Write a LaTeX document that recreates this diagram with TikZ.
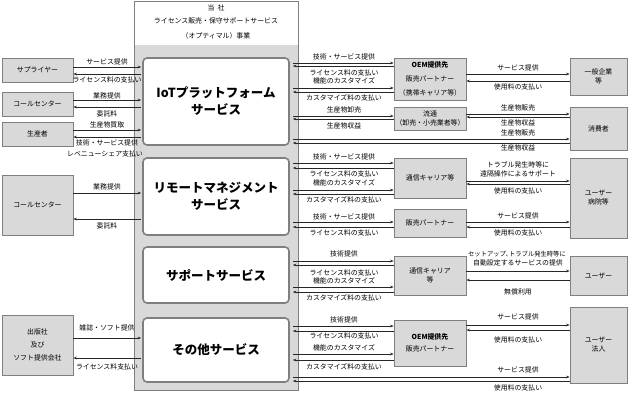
\documentclass[tikz,border=0pt]{standalone}
\usepackage{fontspec}
\setmainfont{Noto Sans CJK JP}
\usetikzlibrary{arrows.meta}
\definecolor{boxgray}{HTML}{D9D9D9}
\definecolor{edgegray}{HTML}{7F7F7F}
\tikzset{
  gbox/.style={draw=edgegray, fill=boxgray, line width=0.8pt, inner sep=0pt, align=center, font=\fontsize{6.9}{9}\selectfont},
  svc/.style={draw=edgegray, fill=white, line width=1.6pt, rounded corners=4pt, inner sep=0pt, align=center, minimum width=146pt, font=\bfseries\fontsize{12.5}{17}\selectfont},
  lbl/.style={inner sep=0pt, font=\fontsize{6.9}{8}\selectfont},
  arr/.style={-{Stealth[length=3.5pt,width=2.6pt]}, line width=0.6pt, draw=black!85}
}
\begin{document}
\begin{tikzpicture}[x=1pt,y=-1pt]
\useasboundingbox (0,0) rectangle (630,397);
% central company frame
\node[fill=boxgray, inner sep=0pt, minimum width=164pt, minimum height=345pt] (base) at (216,217.5) {};
\node[draw=edgegray, line width=0.8pt, inner sep=0pt, minimum width=164pt, minimum height=389pt] (corp) at (216,195.5) {};
\node[lbl] (h1) at (216,8) {当\ \ 社};
\node[lbl] (h2) at (216,21) {ライセンス販売・保守サポートサービス};
\node[lbl] (h3) at (216,36) {（オプティマル）事業};
% services
\node[svc, minimum height=87pt] (iot) at (216,101.5) {IoTプラットフォーム\\サービス};
\node[svc, minimum height=77pt] (rem) at (216,196.5) {リモートマネジメント\\サービス};
\node[svc, minimum height=56pt] (sup) at (216,275) {サポートサービス};
\node[svc, minimum height=64pt] (oth) at (216,350) {その他サービス};
\coordinate (iotL) at ([xshift=-1pt]iot.west);
\coordinate (iotR) at ([xshift=3pt]iot.east);
\coordinate (remL) at ([xshift=-1pt]rem.west);
\coordinate (remR) at ([xshift=3pt]rem.east);
\coordinate (supR) at ([xshift=3pt]sup.east);
\coordinate (othL) at ([xshift=-1pt]oth.west);
\coordinate (othR) at ([xshift=3pt]oth.east);
% left boxes
\node[gbox, minimum width=71pt, minimum height=24pt] (supp) at (37.5,70) {サプライヤー};
\node[gbox, minimum width=71pt, minimum height=24pt] (cc1) at (37.5,104) {コールセンター};
\node[gbox, minimum width=71pt, minimum height=24pt] (prod) at (37.5,134) {生産者};
\node[gbox, minimum width=71pt, minimum height=60pt] (cc2) at (37.5,205) {コールセンター};
\node[gbox, minimum width=71pt, minimum height=60pt, font=\fontsize{6.9}{13}\selectfont] (pub) at (37.5,345) {出版社\\及び\\ソフト提供会社};
% middle boxes
\node[gbox, minimum width=72pt, minimum height=42pt, font=\fontsize{6.9}{14}\selectfont] (oem1) at (430,79) {\textbf{OEM提供先}\\販売パートナー\\（携帯キャリア等）};
\node[gbox, minimum width=72pt, minimum height=23pt] (dist) at (430,118.5) {流通\\（卸売・小売業者等）};
\node[gbox, minimum width=72pt, minimum height=40pt] (tel1) at (430,178) {通信キャリア等};
\node[gbox, minimum width=72pt, minimum height=28pt] (sales) at (430,223) {販売パートナー};
\node[gbox, minimum width=72pt, minimum height=39pt] (tel2) at (430,275.5) {通信キャリア\\等};
\node[gbox, minimum width=72pt, minimum height=46pt, font=\fontsize{6.9}{12}\selectfont] (oem2) at (430,343) {\textbf{OEM提供先}\\販売パートナー};
% right boxes
\node[gbox, minimum width=57pt, minimum height=37pt] (corpc) at (598.5,76.5) {一般企業\\等};
\node[gbox, minimum width=57pt, minimum height=43pt] (cons) at (598.5,128.5) {消費者};
\node[gbox, minimum width=57pt, minimum height=80pt] (hosp) at (598.5,198) {ユーザー\\病院等};
\node[gbox, minimum width=57pt, minimum height=39pt] (user) at (598.5,275.5) {ユーザー};
\node[gbox, minimum width=57pt, minimum height=76pt] (corpu) at (598.5,345) {ユーザー\\法人};
% left connectors
\draw[arr] (supp.east |- 0,67) -- (iotL |- 0,67);
\draw[arr] (iotL |- 0,74) -- (supp.east |- 0,74);
\node[lbl] (l1) at (107,62) {サービス提供};
\node[lbl] (l2) at (107,80) {ライセンス料の支払い};
\draw[arr] (cc1.east |- 0,100) -- (iotL |- 0,100);
\draw[arr] (iotL |- 0,107) -- (cc1.east |- 0,107);
\node[lbl] (l3) at (107,96) {業務提供};
\node[lbl] (l4) at (107,114) {委託料};
\draw[arr] (prod.east |- 0,130) -- (iotL |- 0,130);
\draw[arr] (iotL |- 0,137) -- (prod.east |- 0,137);
\node[lbl] (l5) at (107,125) {生産物買取};
\node[lbl] (l6) at (107,143) {技術・サービス提供};
\node[lbl] (l7) at (105,154) {レベニューシェア支払い};
\draw[arr] (cc2.east |- 0,193) -- (remL |- 0,193);
\draw[arr] (remL |- 0,219) -- (cc2.east |- 0,219);
\node[lbl] (l8) at (107,187) {業務提供};
\node[lbl] (l9) at (107,226) {委託料};
\draw[arr] (pub.east |- 0,338) -- (othL |- 0,338);
\draw[arr] (othL |- 0,358) -- (pub.east |- 0,358);
\node[lbl] (l10) at (107,328) {雑誌・ソフト提供};
\node[lbl] (l11) at (107,367) {ライセンス料支払い};
% IoT right connectors
\draw[arr] (iotR |- 0,63) -- (oem1.west |- 0,63);
\draw[arr] (oem1.west |- 0,66) -- (iotR |- 0,66);
\draw[arr] (iotR |- 0,88) -- (oem1.west |- 0,88);
\draw[arr] (oem1.west |- 0,92) -- (iotR |- 0,92);
\node[lbl] (r1) at (344,57) {技術・サービス提供};
\node[lbl] (r2) at (344,73) {ライセンス料の支払い};
\node[lbl] (r3) at (344,81) {機能のカスタマイズ};
\node[lbl] (r4) at (344,98) {カスタマイズ料の支払い};
\draw[arr] (iotR |- 0,116) -- (dist.west |- 0,116);
\draw[arr] (dist.west |- 0,119) -- (iotR |- 0,119);
\node[lbl] (r5) at (344,110) {生産物卸売};
\node[lbl] (r6) at (344,126) {生産物収益};
\draw[arr] (iotR |- 0,139) -- (cons.west |- 0,139);
\draw[arr] (cons.west |- 0,143) -- (iotR |- 0,143);
\draw[arr] (oem1.east |- 0,74) -- (corpc.west |- 0,74);
\draw[arr] (corpc.west |- 0,81) -- (oem1.east |- 0,81);
\node[lbl] (f1) at (518,68) {サービス提供};
\node[lbl] (f2) at (518,87) {使用料の支払い};
\draw[arr] (dist.east |- 0,114) -- (cons.west |- 0,114);
\draw[arr] (cons.west |- 0,117) -- (dist.east |- 0,117);
\node[lbl] (f3) at (518,108) {生産物販売};
\node[lbl] (f4) at (518,123) {生産物収益};
\node[lbl] (f5) at (518,133) {生産物販売};
\node[lbl] (f6) at (518,148) {生産物収益};
% Remote right connectors
\draw[arr] (remR |- 0,163) -- (tel1.west |- 0,163);
\draw[arr] (tel1.west |- 0,168) -- (remR |- 0,168);
\draw[arr] (remR |- 0,190) -- (tel1.west |- 0,190);
\draw[arr] (tel1.west |- 0,194) -- (remR |- 0,194);
\node[lbl] (r7) at (344,157) {技術・サービス提供};
\node[lbl] (r8) at (344,174) {ライセンス料の支払い};
\node[lbl] (r9) at (344,183) {機能のカスタマイズ};
\node[lbl] (r10) at (344,200) {カスタマイズ料の支払い};
\draw[arr] (remR |- 0,222) -- (sales.west |- 0,222);
\draw[arr] (sales.west |- 0,227) -- (remR |- 0,227);
\node[lbl] (r11) at (344,217) {技術・サービス提供};
\node[lbl] (r12) at (344,233) {ライセンス料の支払い};
\draw[arr] (tel1.east |- 0,181) -- (hosp.west |- 0,181);
\draw[arr] (hosp.west |- 0,184) -- (tel1.east |- 0,184);
\node[lbl] (f7) at (518,165) {トラブル発生時等に};
\node[lbl] (f8) at (518,174) {遠隔操作によるサポート};
\node[lbl] (f9) at (518,191) {使用料の支払い};
\draw[arr] (sales.east |- 0,222) -- (hosp.west |- 0,222);
\draw[arr] (hosp.west |- 0,227) -- (sales.east |- 0,227);
\node[lbl] (f10) at (518,216) {サービス提供};
\node[lbl] (f11) at (518,233) {使用料の支払い};
% Support right connectors
\draw[arr] (supR |- 0,261) -- (tel2.west |- 0,261);
\draw[arr] (tel2.west |- 0,265) -- (supR |- 0,265);
\draw[arr] (supR |- 0,287) -- (tel2.west |- 0,287);
\draw[arr] (tel2.west |- 0,292) -- (supR |- 0,292);
\node[lbl] (r13) at (344,254) {技術提供};
\node[lbl] (r14) at (344,273) {ライセンス料の支払い};
\node[lbl] (r15) at (344,281) {機能のカスタマイズ};
\node[lbl] (r16) at (344,298) {カスタマイズ料の支払い};
\draw[arr] (tel2.east |- 0,271) -- (user.west |- 0,271);
\draw[arr] (user.west |- 0,280) -- (tel2.east |- 0,280);
\node[lbl, font=\fontsize{6.3}{8}\selectfont] (f12) at (517,254) {セットアップ､トラブル発生時等に};
\node[lbl] (f13) at (518,263) {自動設定するサービスの提供};
\node[lbl] (f14) at (518,292) {無償利用};
% Other right connectors
\draw[arr] (othR |- 0,326) -- (oem2.west |- 0,326);
\draw[arr] (oem2.west |- 0,331) -- (othR |- 0,331);
\draw[arr] (othR |- 0,354) -- (oem2.west |- 0,354);
\draw[arr] (oem2.west |- 0,360) -- (othR |- 0,360);
\node[lbl] (r17) at (344,320) {技術提供};
\node[lbl] (r18) at (344,336) {ライセンス料の支払い};
\node[lbl] (r19) at (344,348) {機能のカスタマイズ};
\node[lbl] (r20) at (344,367) {カスタマイズ料の支払い};
\draw[arr] (othR |- 0,377) -- (corpu.west |- 0,377);
\draw[arr] (corpu.west |- 0,381) -- (othR |- 0,381);
\draw[arr] (oem2.east |- 0,325) -- (corpu.west |- 0,325);
\draw[arr] (corpu.west |- 0,330) -- (oem2.east |- 0,330);
\node[lbl] (f15) at (518,317) {サービス提供};
\node[lbl] (f16) at (518,340) {使用料の支払い};
\node[lbl] (f17) at (518,370) {サービス提供};
\node[lbl] (f18) at (518,388) {使用料の支払い};
\end{tikzpicture}
\end{document}
